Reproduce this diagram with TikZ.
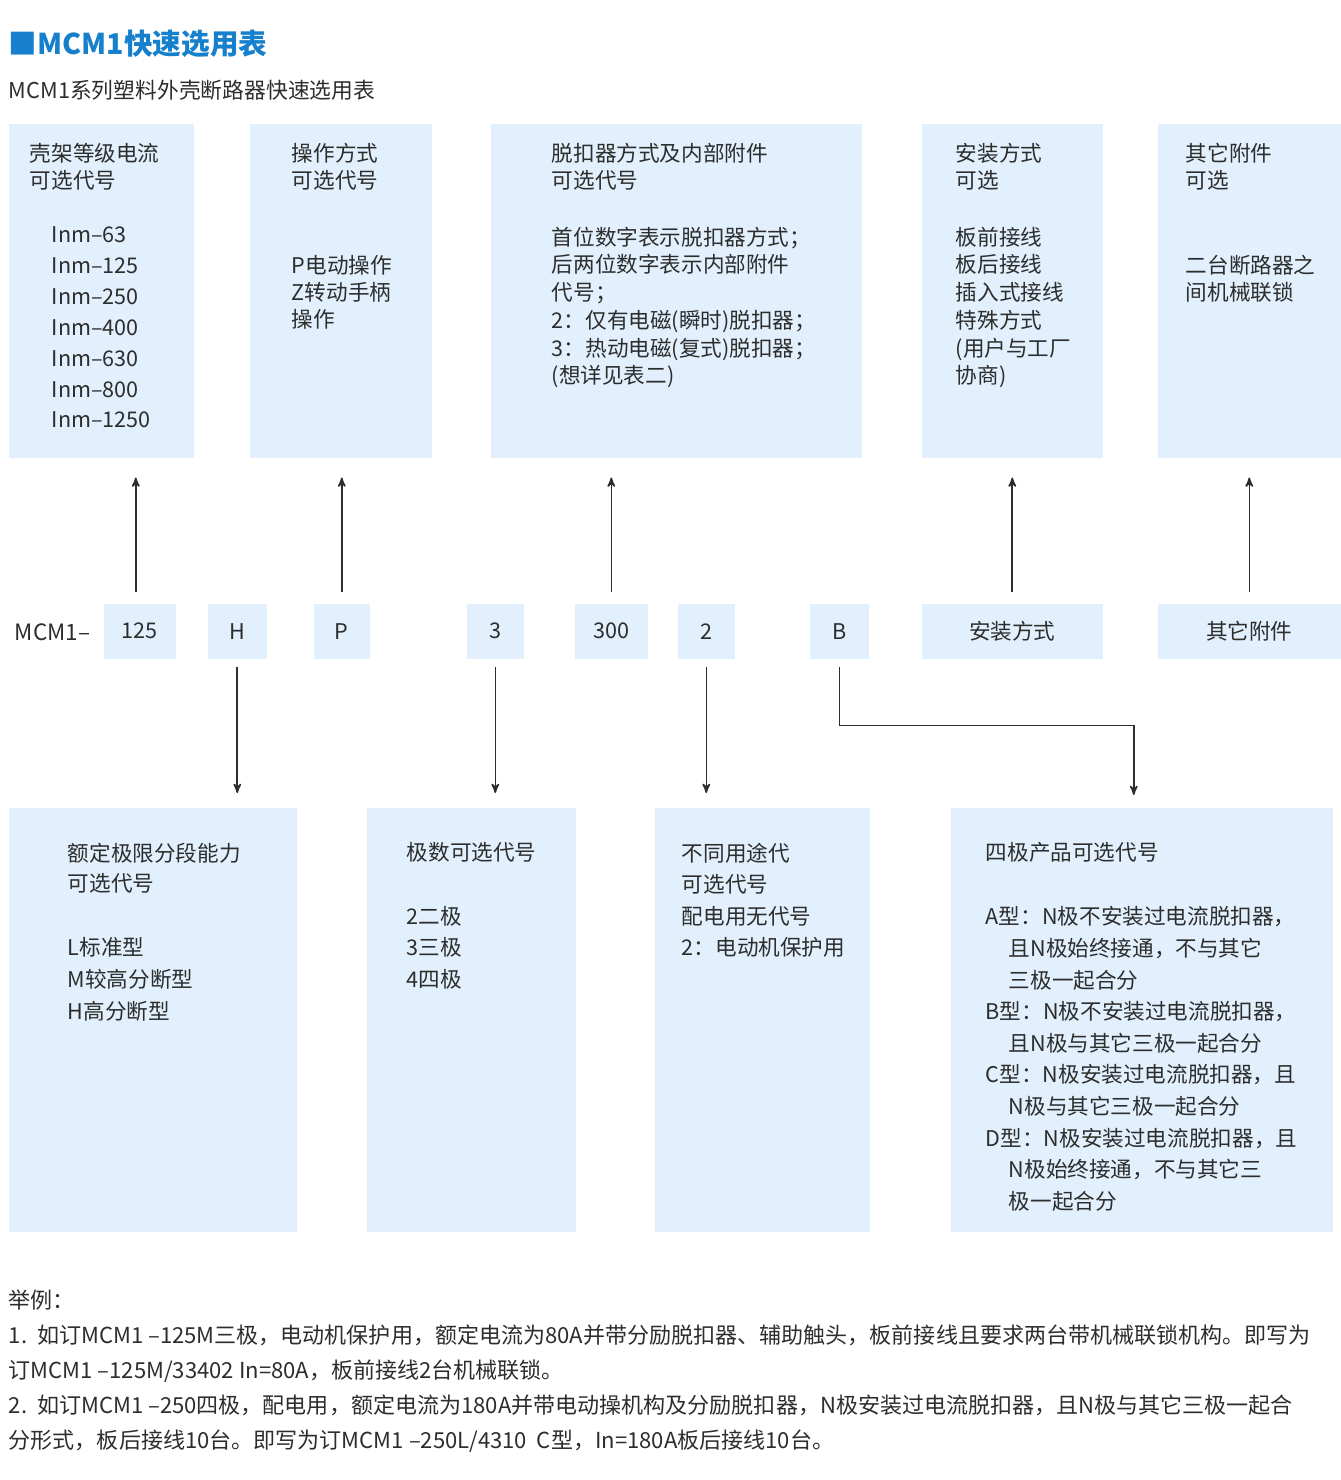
\documentclass[tikz,border=0pt]{standalone}
\usepackage{fontspec}
\setmainfont{Noto Sans CJK SC}
\usepackage{tikz}
\usetikzlibrary{positioning, calc, arrows}
\definecolor{boxblue}{RGB}{225,240,252}
\definecolor{titleblue}{RGB}{22,128,204}
\definecolor{textgray}{RGB}{45,45,45}
\definecolor{linegray}{RGB}{45,45,45}

\begin{document}
\begin{tikzpicture}[x=0.02cm, y=-0.02cm, ->, >=stealth', line width=0.9pt,
  infobox/.style={fill=boxblue, draw=none, anchor=north west, inner sep=0pt},
  codebox/.style={infobox, minimum height=1.1cm, text=textgray, font=\fontsize{12.3}{14}\selectfont},
  % multi-line texts are placed by the baseline of their last line
  boxtext/.style={anchor=base west, align=left, inner sep=0pt, text=textgray, font=\fontsize{12.3}{15.9}\selectfont},
  up/.style={color=linegray, shorten <=0.22cm, shorten >=0.38cm},
  down/.style={color=linegray, shorten <=0.14cm, shorten >=0.28cm}]
  \useasboundingbox (0,0) rectangle (1340,1480);
  % heading
  \node[anchor=base west, inner sep=0pt, text=titleblue, font=\fontsize{16.3}{18}\selectfont\bfseries] (title) at (8,55) {■MCM1快速选用表};
  \node[anchor=base west, inner sep=0pt, text=textgray, font=\fontsize{12.4}{14}\selectfont] (subtitle) at (8,99) {MCM1系列塑料外壳断路器快速选用表};
  % upper row of boxes
  \node[infobox, minimum width=3.70cm, minimum height=6.68cm] (frame) at (8,123) {};
  \node[infobox, minimum width=3.64cm, minimum height=6.68cm] (operation) at (249,123) {};
  \node[infobox, minimum width=7.42cm, minimum height=6.68cm] (release) at (490,123) {};
  \node[infobox, minimum width=3.62cm, minimum height=6.68cm] (mounting) at (921,123) {};
  \node[infobox, minimum width=3.66cm, minimum height=6.68cm] (accessory) at (1157,123) {};
  \node[boxtext] (framehead) at ([xshift=.42cm,yshift=-1.32cm]frame.north west) {壳架等级电流\\可选代号};
  \node[boxtext, font=\fontsize{12.3}{17.6}\selectfont] (framelist) at ([xshift=.86cm,yshift=-6.1cm]frame.north west)
    {Inm–63\\Inm–125\\Inm–250\\Inm–400\\Inm–630\\Inm–800\\Inm–1250};
  \node[boxtext] (ophead) at ([xshift=.84cm,yshift=-1.32cm]operation.north west) {操作方式\\可选代号};
  \node[boxtext, font=\fontsize{12.3}{15.6}\selectfont] (oplist) at ([xshift=.84cm,yshift=-4.1cm]operation.north west)
    {P电动操作\\Z转动手柄\\操作};
  \node[boxtext] (relhead) at ([xshift=1.22cm,yshift=-1.32cm]release.north west) {脱扣器方式及内部附件\\可选代号};
  \node[boxtext, font=\fontsize{12.3}{15.8}\selectfont] (rellist) at ([xshift=1.22cm,yshift=-5.22cm]release.north west)
    {首位数字表示脱扣器方式；\\后两位数字表示内部附件\\代号；\\2：仅有电磁(瞬时)脱扣器；\\3：热动电磁(复式)脱扣器；\\(想详见表二)};
  \node[boxtext] (mounthead) at ([xshift=.68cm,yshift=-1.32cm]mounting.north west) {安装方式\\可选};
  \node[boxtext, font=\fontsize{12.3}{15.8}\selectfont] (mountlist) at ([xshift=.68cm,yshift=-5.22cm]mounting.north west)
    {板前接线\\板后接线\\插入式接线\\特殊方式\\(用户与工厂\\协商)};
  \node[boxtext] (acchead) at ([xshift=.56cm,yshift=-1.32cm]accessory.north west) {其它附件\\可选};
  \node[boxtext] (acclist) at ([xshift=.56cm,yshift=-3.56cm]accessory.north west) {二台断路器之\\间机械联锁};
  % code row
  \node[anchor=base west, inner sep=0pt, text=textgray, font=\fontsize{12.8}{14}\selectfont] (prefix) at (14,640) {MCM1–};
  \node[codebox, minimum width=1.44cm] (c125) at (103,603) {125};
  \node[codebox, minimum width=1.18cm] (cH) at (207,603) {H};
  \node[codebox, minimum width=1.12cm] (cP) at (313,603) {P};
  \node[codebox, minimum width=1.14cm] (c3) at (466,603) {3};
  \node[codebox, minimum width=1.46cm] (c300) at (574,603) {300};
  \node[codebox, minimum width=1.14cm] (c2) at (677,603) {2};
  \node[codebox, minimum width=1.18cm] (cB) at (809,603) {B};
  \node[codebox, minimum width=3.62cm] (cmount) at (921,603) {安装方式};
  \node[codebox, minimum width=3.66cm] (cacc) at (1157,603) {其它附件};
  % lower row of boxes
  \node[infobox, minimum width=5.76cm, minimum height=8.48cm] (breaking) at (8,807) {};
  \node[infobox, minimum width=4.18cm, minimum height=8.48cm] (poles) at (366,807) {};
  \node[infobox, minimum width=4.30cm, minimum height=8.48cm] (usage) at (654,807) {};
  \node[infobox, minimum width=7.64cm, minimum height=8.48cm] (fourpole) at (950,807) {};
  \node[boxtext, font=\fontsize{12.3}{17.6}\selectfont] (breakhead) at ([xshift=1.18cm,yshift=-1.7cm]breaking.north west) {额定极限分段能力\\可选代号};
  \node[boxtext, font=\fontsize{12.3}{18.4}\selectfont] (breaklist) at ([xshift=1.18cm,yshift=-4.26cm]breaking.north west)
    {L标准型\\M较高分断型\\H高分断型};
  \node[boxtext] (polehead) at ([xshift=.8cm,yshift=-1.08cm]poles.north west) {极数可选代号};
  \node[boxtext, font=\fontsize{12.3}{18.2}\selectfont] (polelist) at ([xshift=.8cm,yshift=-3.62cm]poles.north west)
    {2二极\\3三极\\4四极};
  \node[boxtext, font=\fontsize{12.3}{18}\selectfont] (usagelist) at ([xshift=.54cm,yshift=-2.98cm]usage.north west)
    {不同用途代\\可选代号\\配电用无代号\\2：电动机保护用};
  \node[boxtext] (fourhead) at ([xshift=.7cm,yshift=-1.08cm]fourpole.north west) {四极产品可选代号};
  \node[boxtext, font=\fontsize{12.3}{18}\selectfont] (fourlist) at ([xshift=.7cm,yshift=-8.05cm]fourpole.north west)
    {A型：N极不安装过电流脱扣器，\\\hspace*{.46cm}且N极始终接通，不与其它\\\hspace*{.46cm}三极一起合分\\
     B型：N极不安装过电流脱扣器，\\\hspace*{.46cm}且N极与其它三极一起合分\\
     C型：N极安装过电流脱扣器，且\\\hspace*{.46cm}N极与其它三极一起合分\\
     D型：N极安装过电流脱扣器，且\\\hspace*{.46cm}N极始终接通，不与其它三\\\hspace*{.46cm}极一起合分};
  % examples
  \node[anchor=base west, align=left, inner sep=0pt, text=textgray, font=\fontsize{12.55}{19.84}\selectfont] (examples) at (8,1448)
    {举例：\\
     1.\ \ 如订MCM1 –125M三极，电动机保护用，额定电流为80A并带分励脱扣器、辅助触头，板前接线且要求两台带机械联锁机构。即写为\\
     订MCM1 –125M/33402 In=80A，板前接线2台机械联锁。\\
     2.\ \ 如订MCM1 –250四极，配电用，额定电流为180A并带电动操机构及分励脱扣器，N极安装过电流脱扣器，且N极与其它三极一起合\\
     分形式，板后接线10台。即写为订MCM1 –250L/4310\ \ C型，In=180A板后接线10台。};
  % connectors
  \path[up]
    ([xshift=-.08cm]c125.north) edge ([xshift=-.08cm]c125.north |- frame.south)
    (cP.north) edge (cP.north |- operation.south)
    (c300.north) edge (c300.north |- release.south)
    (cmount.north) edge (mounting.south)
    (cacc.north) edge (accessory.south);
  \path[down]
    (cH.south) edge (cH.south |- breaking.north)
    (c3.south) edge (c3.south |- poles.north)
    (c2.south) edge (c2.south |- usage.north);
  \draw[down, shorten >=.24cm] (cB.south) -- ++(0,66) -| ([xshift=-.16cm]fourpole.north);
\end{tikzpicture}
\end{document}
